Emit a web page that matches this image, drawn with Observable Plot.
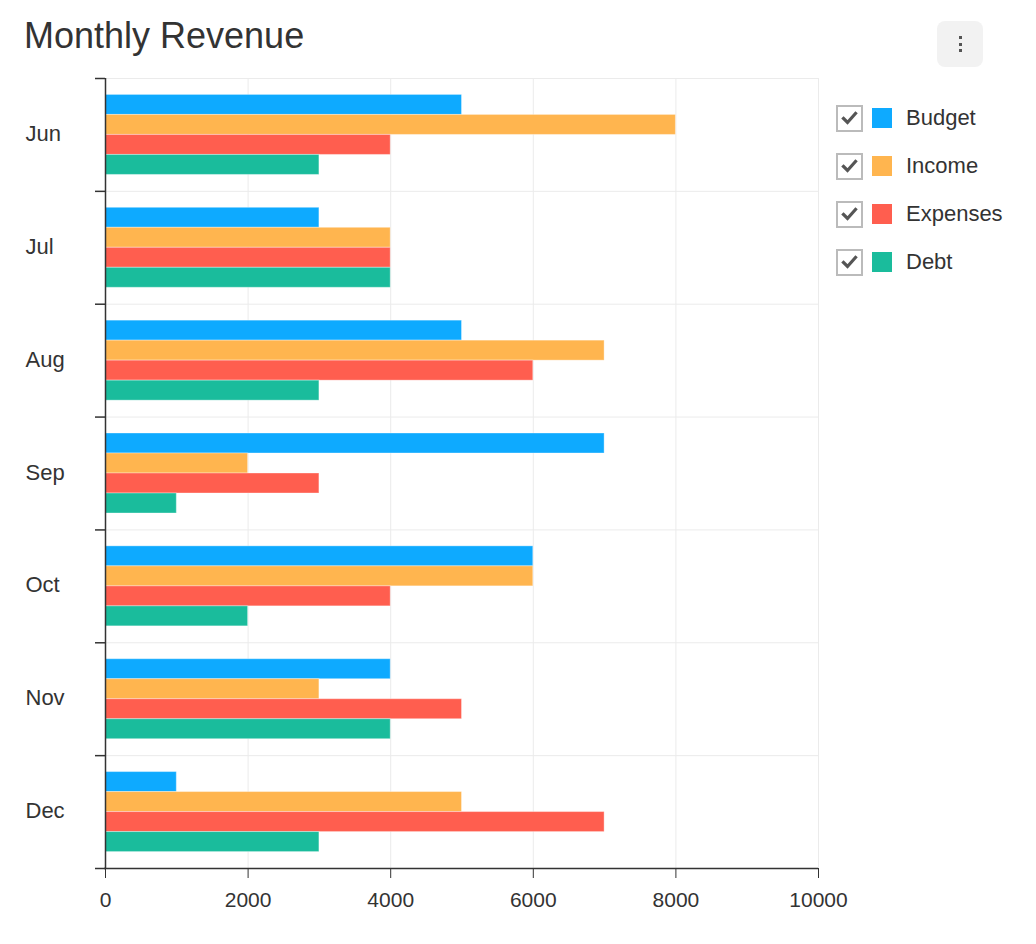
<!DOCTYPE html>
<html>
<head>
<meta charset="utf-8">
<script src="https://cdn.jsdelivr.net/npm/d3@7"></script>
<script src="https://cdn.jsdelivr.net/npm/@observablehq/plot@0.6"></script>
<style>
  html, body { margin: 0; padding: 0; background: #fff; }
  body { width: 1036px; height: 944px; position: relative; font-family: "Liberation Sans", Arial, Helvetica, sans-serif; color: #333; overflow: hidden; }
  #chart { position: absolute; left: 0; top: 0; }
  #title { position: absolute; left: 24px; top: 15px; font-size: 36px; line-height: normal; color: #333; white-space: nowrap; }
  #menu { position: absolute; left: 937px; top: 21px; width: 46px; height: 46px; background: #f2f2f2; border-radius: 8px; }
  #menu span { position: absolute; left: 21.5px; width: 3px; height: 3px; background: #555; }
  #legend { position: absolute; left: 836px; top: 105px; }
  .row { position: relative; height: 48px; }
  .box { position: absolute; left: 0; top: 0; width: 23px; height: 23px; border: 2px solid #bbb; background: #fff; }
  .box svg { position: absolute; left: 3px; top: 3px; }
  .sw { position: absolute; left: 36px; top: 3px; width: 20px; height: 20px; }
  .lab { position: absolute; left: 70px; top: -1px; font-size: 22px; line-height: 27px; color: #333; white-space: nowrap; }
</style>
</head>
<body>
<div id="chart"></div>
<div id="title">Monthly Revenue</div>
<div id="menu"><span style="top:15px"></span><span style="top:21.5px"></span><span style="top:28px"></span></div>
<div id="legend"></div>
<script>
const months = ["Jun", "Jul", "Aug", "Sep", "Oct", "Nov", "Dec"];
const seriesNames = ["Budget", "Income", "Expenses", "Debt"];
const budget   = [5000, 3000, 5000, 7000, 6000, 4000, 1000];
const income   = [8000, 4000, 7000, 2000, 6000, 3000, 5000];
const expenses = [4000, 4000, 6000, 3000, 4000, 5000, 7000];
const debt     = [3000, 4000, 3000, 1000, 2000, 4000, 3000];
const seriesColors = ["#0eaaff", "#ffb54f", "#ff5e4f", "#1abc9c"];
const xTicks = [0, 2000, 4000, 6000, 8000, 10000];

const seriesValues = [budget, income, expenses, debt];
const rows = seriesNames.flatMap((s, k) =>
  months.map((m, i) => ({month: m, series: s, value: seriesValues[k][i]})));

const W = 1036, H = 944;
const mTop = 78, mBottom = 76, mLeft = 105, mRight = 218;
const bw = (H - mTop - mBottom) / months.length;
const barH = 20;
const groupOffset = (bw - barH * seriesNames.length) / 2;

const barMarks = seriesNames.map((s, k) =>
  Plot.barX(rows.filter(d => d.series === s), {
    x: "value", y: "month", fill: seriesColors[k],
    stroke: "#fff", strokeOpacity: 0.35, strokeWidth: 1,
    insetTop: groupOffset + barH * k,
    insetBottom: bw - groupOffset - barH * (k + 1)
  }));

const chart = Plot.plot({
  width: W, height: H,
  marginTop: mTop, marginBottom: mBottom, marginLeft: mLeft, marginRight: mRight,
  style: {fontFamily: "'Liberation Sans', Arial, Helvetica, sans-serif", fontSize: "21px", color: "#333", background: "#fff", overflow: "visible"},
  x: {domain: [0, 10000], ticks: xTicks, tickFormat: d => String(d), tickSize: 10, tickPadding: 14, label: null},
  y: {domain: months, padding: 0, round: false, axis: null},
  marks: [
    // vertical grid
    Plot.ruleX(xTicks.slice(1), {stroke: "#ebebeb", strokeWidth: 1}),
    // horizontal band boundaries
    Plot.ruleY(months, {stroke: "#ebebeb", strokeWidth: 1, dy: -bw / 2}),
    ...barMarks,
    // left axis line
    Plot.ruleX([0], {stroke: "#333", strokeWidth: 1.5}),
    // bottom axis line
    Plot.ruleY(months.slice(-1), {stroke: "#333", strokeWidth: 1.5, dy: bw / 2, insetLeft: -1}),
    // left boundary ticks
    Plot.ruleY(months, {x1: 0, x2: 0, insetLeft: -10, stroke: "#333", strokeWidth: 1.5, dy: -bw / 2}),
    Plot.ruleY(months.slice(-1), {x1: 0, x2: 0, insetLeft: -10, stroke: "#333", strokeWidth: 1.5, dy: bw / 2}),
    // y labels
    Plot.text(months, {y: d => d, text: d => d, frameAnchor: "left", textAnchor: "start", dx: -80, dy: -1, fill: "#333", fontSize: 22})
  ]
});
document.getElementById("chart").appendChild(chart);

const legend = document.getElementById("legend");
seriesNames.forEach((s, k) => {
  const row = document.createElement("div");
  row.className = "row";
  row.innerHTML = `<div class="box"><svg width="17" height="17" viewBox="0 0 17 17"><polyline points="2.5,8.5 6.5,12.5 14.5,3.5" fill="none" stroke="#555" stroke-width="3.2" stroke-linecap="square"/></svg></div>` +
    `<div class="sw" style="background:${seriesColors[k]}"></div><div class="lab">${s}</div>`;
  legend.appendChild(row);
});
</script>
</body>
</html>
